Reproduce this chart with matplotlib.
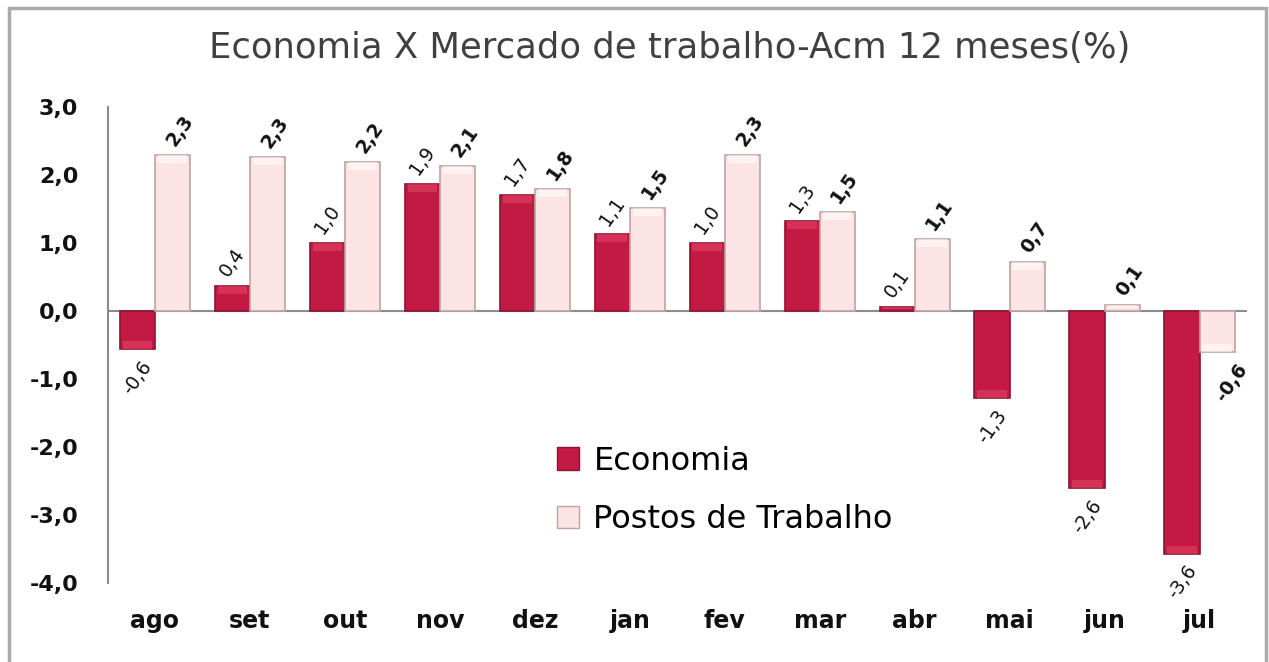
import matplotlib
matplotlib.use("Agg")
import matplotlib.pyplot as plt
from matplotlib.patches import Rectangle, Patch
import numpy as np

categories = ["ago", "set", "out", "nov", "dez", "jan", "fev", "mar", "abr", "mai", "jun", "jul"]
economia = [-0.56, 0.37, 1.0, 1.87, 1.71, 1.13, 1.0, 1.32, 0.06, -1.28, -2.6, -3.57]
postos = [2.29, 2.26, 2.19, 2.13, 1.79, 1.51, 2.29, 1.46, 1.06, 0.72, 0.09, -0.6]
yticks = [3, 2, 1, 0, -1, -2, -3, -4]
title = "Economia X Mercado de trabalho-Acm 12 meses(%)"
series_names = ["Economia", "Postos de Trabalho"]

FONT = "DejaVu Sans"
ECO_FACE = "#C21A42"
ECO_EDGE = "#8E1230"
ECO_HI = "#E8476B"
POS_FACE = "#FDE4E4"
POS_EDGE = "#BDA3A3"
POS_HI = "#FFFFFF"

fig = plt.figure(figsize=(12.69, 6.62), dpi=100)
fig.patches.append(Rectangle((9/1269, -0.01), (1257/1269), 1.0 - 8/662 + 0.01,
                             transform=fig.transFigure, fill=False,
                             edgecolor="#AAAAAA", linewidth=2.5))

ax = fig.add_axes([107.5/1269, 1 - 583/662, (1247 - 107.5)/1269, 476/662])
x = np.arange(len(categories))
w = 0.37

def draw_bars(xpos, vals, face, edge, hi):
    bars = ax.bar(xpos, vals, width=w, color=face, edgecolor=edge, linewidth=1.2, zorder=3)
    for xp, v in zip(xpos, vals):
        h = 0.12 if abs(v) > 0.15 else abs(v) * 0.5
        y0 = v - h if v >= 0 else v
        ax.add_patch(Rectangle((xp - w/2 + 0.03, y0), w - 0.06, h,
                               facecolor=hi, edgecolor="none", alpha=0.55, zorder=4))
    return bars

draw_bars(x - w/2, economia, ECO_FACE, ECO_EDGE, ECO_HI)
draw_bars(x + w/2, postos, POS_FACE, POS_EDGE, POS_HI)

def fmt(v):
    return f"{v:.1f}".replace(".", ",")

for xi, v in zip(x, economia):
    if v >= 0:
        ax.text(xi - w/2, v + 0.08, fmt(v), rotation=55, ha="center", va="bottom",
                fontsize=13.5, family=FONT, color="#111111", zorder=5, clip_on=False)
    else:
        ax.text(xi - w/2, v - 0.12, fmt(v), rotation=55, ha="center", va="top",
                fontsize=13.5, family=FONT, color="#111111", zorder=5, clip_on=False)

for xi, v in zip(x, postos):
    if v >= 0:
        ax.text(xi + w/2 + 0.08, v + 0.08, fmt(v), rotation=55, ha="center", va="bottom",
                fontsize=13.5, fontweight="bold", family=FONT, color="#111111", zorder=5,
                clip_on=False)
    else:
        ax.text(xi + w/2 + 0.15, v - 0.12, fmt(v), rotation=55, ha="center", va="top",
                fontsize=13.5, fontweight="bold", family=FONT, color="#111111", zorder=5,
                clip_on=False)

ax.set_xlim(-0.5, len(categories) - 0.5)
ax.set_ylim(-4, 3)
ax.axhline(0, color="#8C8C8C", linewidth=1.5, zorder=2)
for s in ["top", "right", "bottom"]:
    ax.spines[s].set_visible(False)
ax.spines["left"].set_color("#8C8C8C")
ax.spines["left"].set_linewidth(1.5)

ax.set_yticks(yticks)
ax.set_yticklabels([f"{t:.1f}".replace(".", ",") for t in yticks],
                   fontsize=16, fontweight="bold", family=FONT, color="#111111")
ax.tick_params(axis="y", length=0, pad=21)
ax.set_xticks(x)
ax.set_xticklabels(categories, fontsize=17, fontweight="bold", family=FONT, color="#111111")
ax.tick_params(axis="x", length=0, pad=19)

fig.text(670/1269, 1 - 48/662, title, ha="center", va="center", fontsize=25.5,
         family=FONT, color="#404040")

handles = [Patch(facecolor=ECO_FACE, edgecolor=ECO_EDGE),
           Patch(facecolor=POS_FACE, edgecolor=POS_EDGE)]
leg = ax.legend(handles, series_names, loc="upper left",
                bbox_to_anchor=((528 - 107.5)/(1247 - 107.5), (583 - 417)/476),
                frameon=False, prop={"family": FONT, "size": 23},
                handlelength=0.7, handleheight=0.7, handletextpad=0.45,
                labelspacing=0.85)

fig.savefig("out.png", dpi=100)
